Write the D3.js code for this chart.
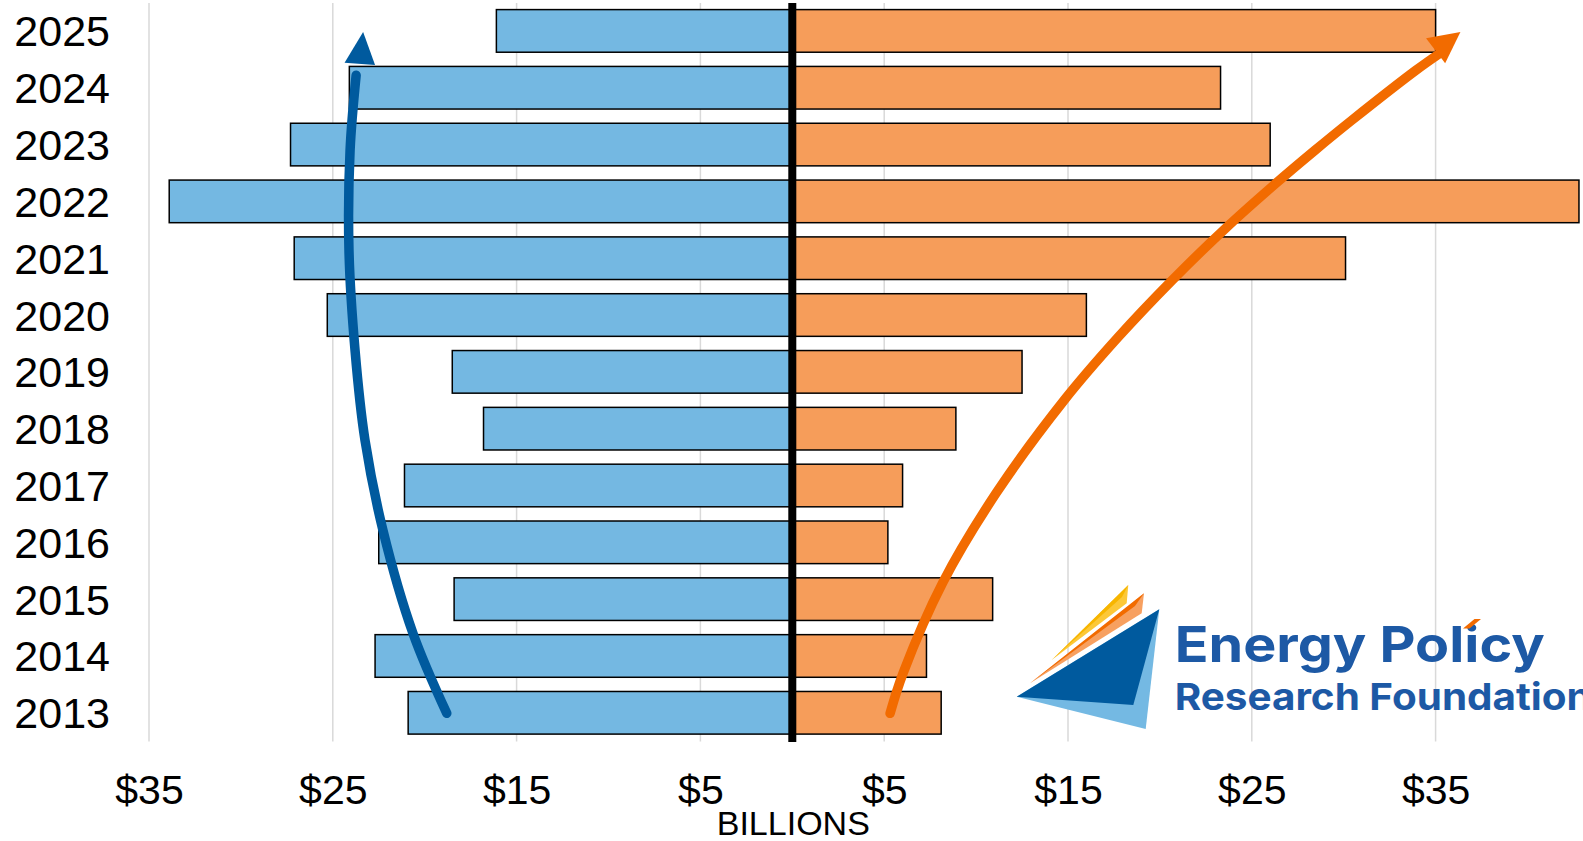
<!DOCTYPE html>
<html><head><meta charset="utf-8">
<script src="https://cdn.jsdelivr.net/npm/d3@7"></script>
<style>html,body{margin:0;padding:0;background:#fff;overflow:hidden}</style>
</head><body><svg id="c" width="1583" height="841"></svg>
<script>
// ---- data ----
const years = [2025, 2024, 2023, 2022, 2021, 2020, 2019, 2018, 2017, 2016, 2015, 2014, 2013];
const leftValues  = [16.1, 24.1, 27.3, 33.9, 27.1, 25.3, 18.5, 16.8, 21.1, 22.5, 18.4, 22.7, 20.9];
const rightValues = [35.0, 23.3, 26.0, 42.8, 30.1, 16.0, 12.5, 8.9, 6.0, 5.2, 10.9, 7.3, 8.1];
const tickValues = [-35, -25, -15, -5, 5, 15, 25, 35];
const tickLabels = ["$35", "$25", "$15", "$5", "$5", "$15", "$25", "$35"];
const axisTitle = "BILLIONS";
// trend arrows, in data space: [value ($B, negative = left side), year position]
const blueArrow = [[-18.80, 2012.99], [-20.64, 2014.40], [-22.27, 2016.21], [-23.25, 2017.80], [-23.79, 2019.38], [-24.12, 2021.14], [-24.06, 2022.90], [-23.73, 2024.22]];
const blueHead = [[-23.35, 2024.98], [-24.36, 2024.44], [-22.70, 2024.40]];
const orangeArrow = [[5.32, 2012.99], [6.03, 2013.70], [8.20, 2015.30], [11.08, 2016.86], [14.79, 2018.50], [17.73, 2019.61], [20.66, 2020.61], [23.65, 2021.55], [26.32, 2022.32], [28.44, 2022.90], [30.45, 2023.43], [33.94, 2024.31], [35.25, 2024.61]];
const orangeHead = [[36.35, 2024.98], [34.48, 2024.87], [35.52, 2024.43]];

// ---- chart ----
const svg = d3.select("#c");
const x = d3.scaleLinear().domain([-35, 45]).range([149, 1619.4]);
const y = d3.scaleBand().domain(years).range([2.5, 741.2]).paddingInner(0.25).paddingOuter(0.125);
const bw = y.bandwidth();
const yc = d3.scaleLinear().domain([2025, 2013]).range([y(2025) + bw / 2, y(2013) + bw / 2]);
const font = "'Liberation Sans', Arial, sans-serif";

// gridlines
svg.append("g").selectAll("line").data(tickValues).join("line")
  .attr("x1", d => x(d)).attr("x2", d => x(d))
  .attr("y1", 3).attr("y2", 741.5)
  .attr("stroke", "#d9d9d9").attr("stroke-width", 1.5);

// bars
const bars = svg.append("g");
bars.selectAll("rect.l").data(years).join("rect").attr("class", "l")
  .attr("x", (d, i) => x(-leftValues[i]))
  .attr("width", (d, i) => x(0) - x(-leftValues[i]))
  .attr("y", d => y(d)).attr("height", bw)
  .attr("fill", "#74b8e2").attr("stroke", "#000").attr("stroke-width", 1.5);
bars.selectAll("rect.r").data(years).join("rect").attr("class", "r")
  .attr("x", x(0))
  .attr("width", (d, i) => x(rightValues[i]) - x(0))
  .attr("y", d => y(d)).attr("height", bw)
  .attr("fill", "#f69d5a").attr("stroke", "#000").attr("stroke-width", 1.5);

// center line
svg.append("line").attr("x1", x(0)).attr("x2", x(0)).attr("y1", 3).attr("y2", 742)
  .attr("stroke", "#000").attr("stroke-width", 8);

// year labels
svg.append("g").selectAll("text").data(years).join("text")
  .attr("x", 110).attr("y", d => y(d) + bw / 2)
  .attr("dy", "0.36em").attr("text-anchor", "end")
  .attr("font-family", font).attr("font-size", 43).attr("fill", "#000")
  .text(d => d);

// x axis labels
const xAxis = d3.axisBottom(x).tickValues(tickValues).tickSize(0)
  .tickFormat((d, i) => tickLabels[i]);
const ax = svg.append("g").attr("transform", "translate(0,760)").call(xAxis);
ax.select(".domain").remove();
ax.selectAll("text").attr("font-family", font).attr("font-size", 41).attr("fill", "#000")
  .attr("y", 44).attr("dy", 0);

svg.append("text").attr("x", x(0) + 1).attr("y", 835).attr("text-anchor", "middle")
  .attr("font-family", font).attr("font-size", 34).attr("fill", "#000").text(axisTitle);

// arrows
const line = d3.line().x(d => x(d[0])).y(d => yc(d[1])).curve(d3.curveCatmullRom.alpha(0.5));
svg.append("path").attr("d", line(blueArrow)).attr("fill", "none")
  .attr("stroke", "#005a9e").attr("stroke-width", 9.5).attr("stroke-linecap", "round");
svg.append("polygon").attr("points", blueHead.map(d => [x(d[0]), yc(d[1])].join(",")).join(" "))
  .attr("fill", "#005a9e");
svg.append("path").attr("d", line(orangeArrow)).attr("fill", "none")
  .attr("stroke", "#f26b00").attr("stroke-width", 9.5).attr("stroke-linecap", "round");
svg.append("polygon").attr("points", orangeHead.map(d => [x(d[0]), yc(d[1])].join(",")).join(" "))
  .attr("fill", "#f26b00");

// logo
const logo = svg.append("g");
const poly = (pts, fill) => logo.append("polygon").attr("points", pts.map(p => p.join(",")).join(" ")).attr("fill", fill);
poly([[1051.7, 660], [1128.3, 585], [1126.7, 603.3]], "#fcc838");
poly([[1051.7, 660], [1128.3, 585], [1122, 597]], "#f7b500");
poly([[1030, 683.3], [1144, 593.3], [1141.7, 613.3]], "#f7a060");
poly([[1030, 683.3], [1144, 593.3], [1135, 606]], "#f26b00");
poly([[1016.7, 696.7], [1159.3, 609.3], [1145.7, 729]], "#74b9e3");
poly([[1016.7, 696.7], [1159.3, 609.3], [1133.3, 705]], "#005a9e");
logo.append("text").attr("x", 1174.7).attr("y", 661.7)
  .attr("font-family", "Inter, 'Open Sans', sans-serif").attr("font-weight", 700)
  .attr("font-size", 50).attr("textLength", 370).attr("lengthAdjust", "spacingAndGlyphs")
  .attr("fill", "#1d59a5").text("Energy Policy");
poly([[1463, 628.5], [1469.5, 628.5], [1481, 619], [1474.5, 619]], "#f26b00");
logo.append("text").attr("x", 1174.7).attr("y", 710)
  .attr("font-family", "Inter, 'Open Sans', sans-serif").attr("font-weight", 700)
  .attr("font-size", 37.5).attr("textLength", 417).attr("lengthAdjust", "spacingAndGlyphs")
  .attr("fill", "#1d59a5").text("Research Foundation");
</script>
</body></html>
